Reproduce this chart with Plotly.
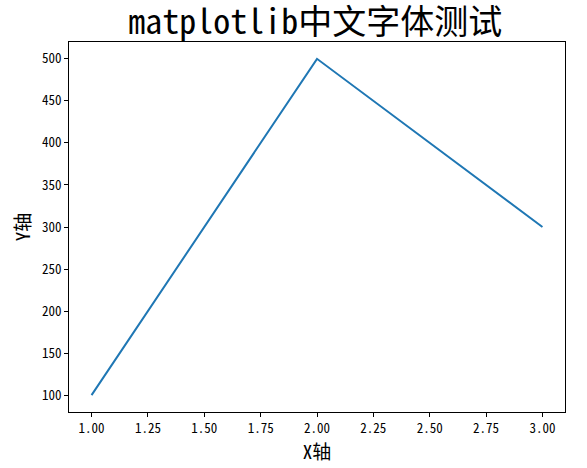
import plotly.graph_objects as go

x_vals = [1, 2, 3]
y_vals = [100, 500, 300]
x_ticks = [1.0, 1.25, 1.5, 1.75, 2.0, 2.25, 2.5, 2.75, 3.0]
x_tick_text = ["1.00", "1.25", "1.50", "1.75", "2.00", "2.25", "2.50", "2.75", "3.00"]
y_ticks = [100, 150, 200, 250, 300, 350, 400, 450, 500]

font = "Noto Sans Mono CJK SC, Noto Sans CJK SC, monospace"

fig = go.Figure()
fig.add_trace(go.Scatter(x=x_vals, y=y_vals, mode="lines",
                         line=dict(color="#1f77b4", width=2)))

axis_common = dict(showline=True, linecolor="black", linewidth=1, mirror=True,
                   ticks="outside", ticklen=4, tickcolor="black", tickwidth=1,
                   showgrid=False, zeroline=False, automargin=False,
                   tickfont=dict(family=font, size=13, color="black"))

fig.update_layout(
    width=587, height=468,
    margin=dict(l=69, r=22, t=42, b=56),
    paper_bgcolor="white", plot_bgcolor="white",
    showlegend=False,
    title=dict(text="matplotlib中文字体测试", x=0.537, xanchor="center",
               y=0.953, yanchor="middle",
               font=dict(family=font, size=34, color="black")),
    xaxis=dict(range=[0.9, 3.1], tickvals=x_ticks, ticktext=x_tick_text,
               title=dict(text="X轴", font=dict(family=font, size=19, color="black"), standoff=1),
               **axis_common),
    yaxis=dict(range=[80, 520], tickvals=y_ticks,
               title=dict(text="Y轴", font=dict(family=font, size=19, color="black"), standoff=6),
               **axis_common),
)

fig.write_html("out.html", config={"displayModeBar": False},
               post_script="document.body.style.margin='0';document.body.style.padding='0';")
